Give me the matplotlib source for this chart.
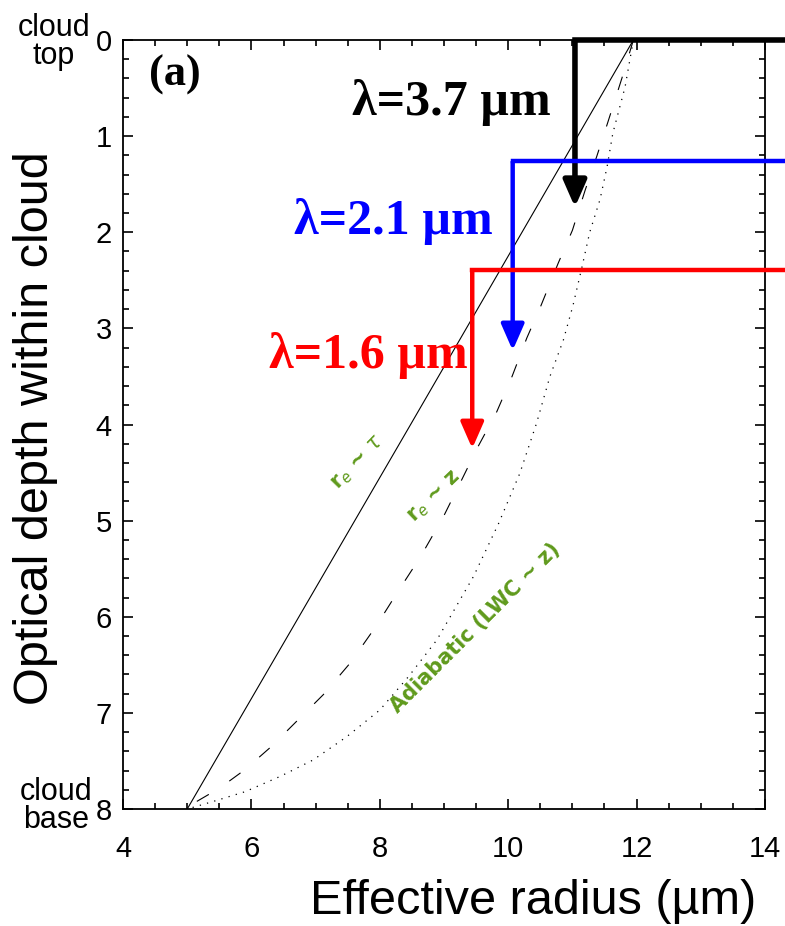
import matplotlib
matplotlib.use("Agg")
import matplotlib.pyplot as plt
from matplotlib.ticker import MultipleLocator

# effective radius profiles (tau = optical depth from cloud top)
lin_tau = [0.0, 4.0, 8.0]
lin_re = [11.95, 8.48, 5.0]

z_tau = [0.0, 0.40, 0.86, 1.21, 1.56, 1.98, 2.32, 2.78, 3.10, 3.50, 3.87, 4.23, 4.61,
         4.96, 5.38, 5.75, 6.09, 6.48, 6.81, 7.09, 7.35, 7.59, 7.78, 7.94, 8.0]
z_re = [11.95, 11.77, 11.55, 11.38, 11.2, 11.0, 10.78, 10.50, 10.29, 10.06, 9.82, 9.53, 9.25,
        8.99, 8.63, 8.27, 7.95, 7.54, 7.12, 6.70, 6.31, 5.90, 5.51, 5.10, 5.0]

adi_tau = [0.0, 0.49, 0.97, 1.32, 1.66, 2.0, 2.36, 2.76, 3.12, 3.50, 3.99, 4.51, 5.03,
           5.58, 6.24, 6.62, 6.97, 7.25, 7.49, 7.66, 7.82, 7.92, 8.0]
adi_re = [11.95, 11.82, 11.63, 11.54, 11.43, 11.27, 11.15, 11.01, 10.86, 10.65, 10.44, 10.18,
          9.85, 9.46, 8.89, 8.45, 8.0, 7.48, 6.96, 6.45, 5.90, 5.41, 5.0]

# retrieval wavelengths: label, colour, retrieved re, penetration depth, arrow tip
bands = ["\u03bb=3.7 \u00b5m", "\u03bb=2.1 \u00b5m", "\u03bb=1.6 \u00b5m"]
band_colors = ["black", "#0000ff", "#ff0000"]
band_re = [11.04, 10.07, 9.44]
band_top = [0.0, 1.26, 2.39]
band_tip = [1.74, 3.23, 4.25]

green = "#5f9a1c"

fig = plt.figure(figsize=(7.85, 9.26), dpi=100)
ax = fig.add_axes([0.1567, 0.1263, 0.8178, 0.8305])

ax.plot(lin_re, lin_tau, color="black", lw=0.8)
ax.plot(z_re, z_tau, color="black", lw=0.8, dashes=(12.5, 22))
ax.plot(adi_re, adi_tau, color="black", lw=0.9, dashes=(1, 5))

lws = [4.0, 3.2, 3.2]
for lab, c, r, t0, t1, lw in zip(bands, band_colors, band_re, band_top, band_tip, lws):
    ax.plot([r, 14.32], [t0, t0], color=c, lw=lw, clip_on=False,
            solid_capstyle="projecting", zorder=5)
    ax.annotate("", xy=(r, t1), xytext=(r, t0),
                arrowprops=dict(arrowstyle="-|>,head_length=0.8,head_width=0.35",
                                color=c, lw=lw, shrinkA=0, shrinkB=0,
                                mutation_scale=20, capstyle="butt"), zorder=5)

ax.text(9.11, 0.655, bands[0], color=band_colors[0], fontsize=36, fontweight="bold",
        family="Liberation Serif", ha="center", va="center")
ax.text(8.21, 1.89, bands[1], color=band_colors[1], fontsize=36, fontweight="bold",
        family="Liberation Serif", ha="center", va="center")
ax.text(7.82, 3.28, bands[2], color=band_colors[2], fontsize=36, fontweight="bold",
        family="Liberation Serif", ha="center", va="center")
ax.text(4.81, 0.364, "(a)", fontsize=32, fontweight="bold", family="Liberation Serif",
        ha="center", va="center")

ax.text(7.66, 4.40, r"r$_e$ ~ $\tau$", color=green, fontsize=15, fontweight="bold",
        rotation=46, ha="center", va="center")
ax.text(8.86, 4.76, r"r$_e$ ~ z", color=green, fontsize=15, fontweight="bold",
        rotation=44, ha="center", va="center")
ax.text(9.48, 6.12, "Adiabatic (LWC ~ z)", color=green, fontsize=15, fontweight="bold",
        rotation=45, ha="center", va="center")

ax.set_xlim(4, 14)
ax.set_ylim(8, 0)
ax.xaxis.set_major_locator(MultipleLocator(2))
ax.xaxis.set_minor_locator(MultipleLocator(0.5))
ax.yaxis.set_major_locator(MultipleLocator(1))
ax.yaxis.set_minor_locator(MultipleLocator(0.2))
ax.tick_params(which="both", direction="in", top=True, right=True, width=1.2)
ax.tick_params(which="major", length=7)
ax.tick_params(which="minor", length=4.5)
ax.tick_params(axis="x", labelsize=21, pad=19)
ax.tick_params(axis="y", labelsize=21, pad=8)
for lab in ax.get_xticklabels() + ax.get_yticklabels():
    lab.set_family("Liberation Sans")
for s in ax.spines.values():
    s.set_linewidth(1.3)

fig.text(54 / 785, 1 - 42 / 926, "cloud\ntop", fontsize=22, family="Liberation Sans",
         ha="center", va="center", linespacing=0.9)
fig.text(56 / 785, 1 - 806 / 926, "cloud\nbase", fontsize=22, family="Liberation Sans",
         ha="center", va="center", linespacing=0.9)

fig.text(533 / 785, 1 - 902 / 926, "Effective radius (\u00b5m)", fontsize=35,
         family="Liberation Sans", ha="center", va="center")
fig.text(36 / 785, 1 - 428 / 926, "Optical depth within cloud", fontsize=35,
         family="Liberation Sans", ha="center", va="center", rotation=90)

fig.savefig("out.png", dpi=100)
